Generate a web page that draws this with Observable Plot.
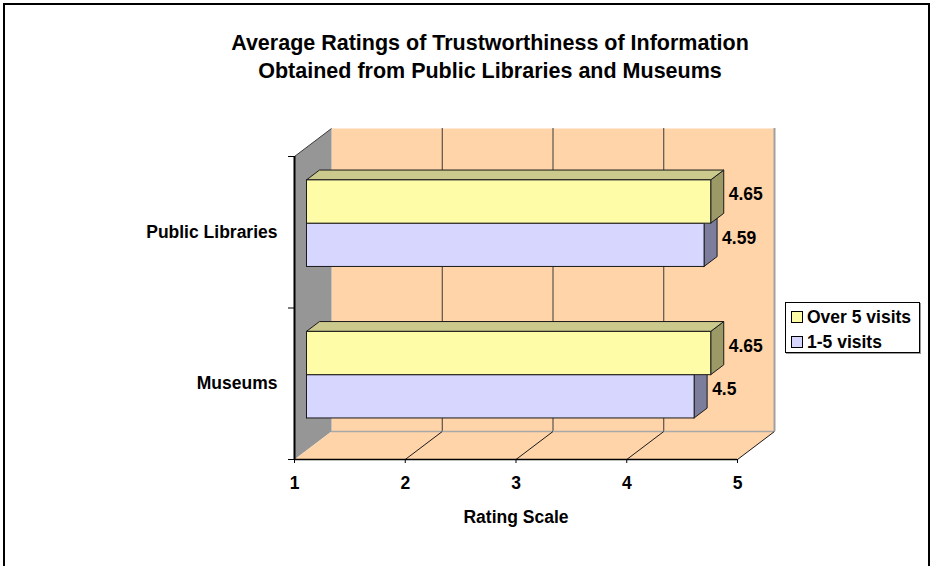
<!DOCTYPE html>
<html>
<head>
<meta charset="utf-8">
<script src="https://cdn.jsdelivr.net/npm/d3@7"></script>
<script src="https://cdn.jsdelivr.net/npm/@observablehq/plot@0.6"></script>
<style>
  body { margin: 0; background: #fff; overflow: hidden; font-family: "Liberation Sans", Arial, sans-serif; }
  #wrap { position: relative; width: 933px; height: 566px; overflow: hidden; }
  #frame { position: absolute; left: 3px; top: 3px; width: 923px; height: 620px; border: 2px solid #000; box-sizing: content-box; }
  #chart { position: absolute; left: 0; top: 0; }
  #title { position: absolute; left: 0; width: 980px; top: 29px; text-align: center; font-size: 21.5px; font-weight: bold; line-height: 28px; color: #000; }
  #legend { position: absolute; left: 785px; top: 302px; width: 133px; height: 49px; border: 1px solid #000; background: #fff; box-shadow: 1px 1px 0 #9a9a9a; font-size: 17.5px; font-weight: bold; }
  .item { position: absolute; left: 5px; height: 20px; line-height: 20px; white-space: nowrap; }
  .sw { display: inline-block; width: 10px; height: 10px; border: 1px solid #000; vertical-align: middle; margin-right: 4px; position: relative; top: -1px; }
</style>
</head>
<body>
<div id="wrap">
  <div id="frame"></div>
  <div id="chart"></div>
  <div id="title"></div>
  <div id="legend"></div>
</div>
<script>
// ---- data ----
const titleLines = ["Average Ratings of Trustworthiness of Information", "Obtained from Public Libraries and Museums"];
const categories = ["Public Libraries", "Museums"];
const seriesNames = ["Over 5 visits", "1-5 visits"];
const over5Visits = [4.65, 4.65];
const visits1to5 = [4.59, 4.5];
const xTicks = [1, 2, 3, 4, 5];
const xTitle = "Rating Scale";

// ---- styles ----
const colors = {
  wall: "#FFD4A8", side: "#969696",
  yellow: "#FFFCA8", yellowTop: "#CBC98C", yellowSide: "#9B9966",
  purple: "#D6D6FE", purpleTop: "#A8A8C8", purpleSide: "#7C7C9C"
};
const FS = 17.5;
const W = 933, H = 566, mL = 294, mR = 196, mT = 156, mB = 107;
const depthPx = [37, 28];           // full depth offset of the 3D box (pixels)
const barFront = 12 / 37, barBack = 25 / 37; // bar depth fraction
const gapRatio = 1.5;

const xMin = xTicks[0], xMax = xTicks[xTicks.length - 1];
const nCat = categories.length;
const pxPerX = (W - mL - mR) / (xMax - xMin);
const pxPerY = (H - mT - mB) / nCat;
const DX = depthPx[0] / pxPerX, DY = depthPx[1] / pxPerY;
const pt = (x, y, f) => ({x: x + f * DX, y: y + f * DY});

// bar geometry (category bands: index 0 at top)
const barH = 1 / (seriesNames.length + gapRatio);
const seriesVals = [over5Visits, visits1to5];
const polys = {};
function addPoly(key, id, pts) {
  (polys[key] = polys[key] || []).push(...[...pts, pts[0]].map(p => ({...p, id})));
}
const labels = [];
categories.forEach((c, i) => {
  const base = nCat - 1 - i;
  for (let s = seriesNames.length - 1; s >= 0; s--) {
    const v = seriesVals[s][i];
    const y1 = base + 0.5 + barH * (seriesNames.length / 2 - s);
    const y0 = y1 - barH;
    const key = s === 0 ? "yellow" : "purple";
    const id = c + "|" + seriesNames[s];
    addPoly(key + "Side", id, [pt(v, y0, barFront), pt(v, y0, barBack), pt(v, y1, barBack), pt(v, y1, barFront)]);
    addPoly(key + "Top", id, [pt(xMin, y1, barFront), pt(v, y1, barFront), pt(v, y1, barBack), pt(xMin, y1, barBack)]);
    addPoly(key, id, [pt(xMin, y0, barFront), pt(v, y0, barFront), pt(v, y1, barFront), pt(xMin, y1, barFront)]);
    const lp = pt(v, (y0 + y1) / 2, barBack);
    labels.push({x: lp.x, y: lp.y, text: String(v)});
  }
});

// walls
const backWall = [pt(xMin, 0, 1), pt(xMax, 0, 1), pt(xMax, nCat, 1), pt(xMin, nCat, 1)].map(p => ({...p, id: "back"}));
const leftWall = [pt(xMin, 0, 0), pt(xMin, 0, 1), pt(xMin, nCat, 1), pt(xMin, nCat, 0)].map(p => ({...p, id: "left"}));
const floor = [pt(xMin, 0, 0), pt(xMax, 0, 0), pt(xMax, 0, 1), pt(xMin, 0, 1)].map(p => ({...p, id: "floor"}));

const barMarks = [];
categories.forEach((c, i) => {
  for (let s = seriesNames.length - 1; s >= 0; s--) {
    const key = s === 0 ? "yellow" : "purple";
    const id = c + "|" + seriesNames[s];
    for (const face of [key + "Side", key + "Top", key]) {
      barMarks.push(Plot.line(polys[face].filter(d => d.id === id), {x: "x", y: "y", z: "id", fill: colors[face], stroke: "#1a1a1a", strokeWidth: 1, strokeLinejoin: "round"}));
    }
  }
});

const chart = Plot.plot({
  width: W, height: H,
  marginLeft: mL, marginRight: mR, marginTop: mT, marginBottom: mB,
  x: {domain: [xMin, xMax], axis: null},
  y: {domain: [0, nCat], axis: null},
  style: {fontFamily: '"Liberation Sans", Arial, sans-serif', fontSize: FS + "px", fontWeight: "bold", color: "#000", background: "transparent", overflow: "visible"},
  marks: [
    Plot.line(backWall, {x: "x", y: "y", z: "id", fill: colors.wall, stroke: "none"}),
    Plot.line(leftWall, {x: "x", y: "y", z: "id", fill: colors.side, stroke: "none"}),
    Plot.line(floor, {x: "x", y: "y", z: "id", fill: colors.wall, stroke: "none"}),
    Plot.ruleX(xTicks.slice(1, -1), {x: d => d + DX, y1: DY, y2: nCat + DY, stroke: "#3a3a3a", strokeWidth: 1}),
    Plot.ruleX([xMax], {x: d => d + DX, y1: DY, y2: nCat + DY, stroke: "#a0a0a0", strokeWidth: 2}),
    Plot.ruleY([0], {y: () => DY, x1: xMin + DX, x2: xMax + DX, stroke: "#a8a8a8", strokeWidth: 1.5}),
    Plot.link(xTicks.slice(1), {x1: d => d, y1: 0, x2: d => d + DX, y2: DY, stroke: "#1a1a1a", strokeWidth: 1}),
    Plot.link([nCat], {x1: xMin, y1: d => d, x2: xMin + DX, y2: d => d + DY, stroke: "#3a3a3a", strokeWidth: 1}),
    Plot.ruleY([0], {x1: xMin, x2: xMax, stroke: "#000", strokeWidth: 1.5}),
    Plot.ruleX([xMin], {y1: 0, y2: nCat, stroke: "#000", strokeWidth: 2}),
    Plot.axisX({ticks: xTicks, tickSize: 4, tickPadding: 13, tickFormat: d => String(d), label: null, fontSize: FS, fontWeight: "bold", stroke: "#000"}),
    Plot.axisY({ticks: d3.range(nCat + 1), tickSize: 6, tickFormat: () => "", label: null, stroke: "#000"}),
    Plot.text(categories, {x: xMin, y: (d, i) => nCat - 1 - i + 0.5, text: d => d, textAnchor: "end", dx: -17, fontSize: FS, fontWeight: "bold"}),
    ...barMarks,
    Plot.text(labels, {x: "x", y: "y", text: "text", textAnchor: "start", dx: 5, dy: 3, fontSize: FS, fontWeight: "bold"}),
    Plot.text([xTitle], {frameAnchor: "bottom", text: d => d, dy: 58, fontSize: FS, fontWeight: "bold", lineAnchor: "middle"})
  ]
});
document.getElementById("chart").appendChild(chart);

document.getElementById("title").innerHTML = titleLines.map(t => `<div>${t}</div>`).join("");
const legendFills = [colors.yellow, colors.purple];
document.getElementById("legend").innerHTML = seriesNames.map((s, i) =>
  `<div class="item" style="top:${4 + i * 25}px"><span class="sw" style="background:${legendFills[i]}"></span>${s}</div>`).join("");
</script>
</body>
</html>
